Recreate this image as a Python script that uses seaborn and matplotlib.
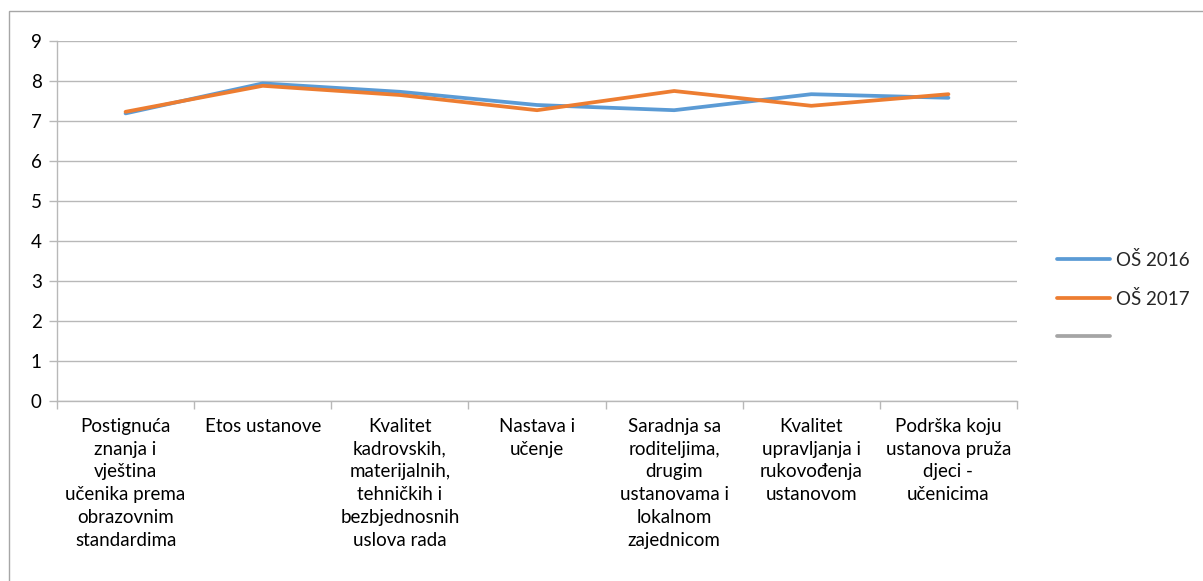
import matplotlib
matplotlib.use("Agg")
import matplotlib.pyplot as plt
from matplotlib.lines import Line2D
from matplotlib.patches import Rectangle
import numpy as np
import pandas as pd
import seaborn as sns

# Assessment areas (x categories)
categories = [
    "Postignuća\nznanja i\nvještina\nučenika prema\nobrazovnim\nstandardima",
    "Etos ustanove",
    "Kvalitet\nkadrovskih,\nmaterijalnih,\ntehničkih i\nbezbjednosnih\nuslova rada",
    "Nastava i\nučenje",
    "Saradnja sa\nroditeljima,\ndrugim\nustanovama i\nlokalnom\nzajednicom",
    "Kvalitet\nupravljanja i\nrukovođenja\nustanovom",
    "Podrška koju\nustanova pruža\ndjeci -\nučenicima",
]

# Average scores per area
os_2016 = [7.19, 7.94, 7.73, 7.40, 7.27, 7.67, 7.58]
os_2017 = [7.23, 7.88, 7.65, 7.27, 7.75, 7.38, 7.67]

series_names = ["OŠ 2016", "OŠ 2017"]
y_ticks = list(range(0, 10))

colors = {"OŠ 2016": "#5B9BD5", "OŠ 2017": "#ED7D31"}
empty_series_color = "#A5A5A5"

sns.set_theme(style="white")
plt.rcParams["font.family"] = ["Lato", "DejaVu Sans"]
FS = 13.5

rows = []
for name, vals in zip(series_names, [os_2016, os_2017]):
    for i, v in enumerate(vals):
        rows.append({"pos": i, "score": v, "series": name})
df = pd.DataFrame(rows)

fig = plt.figure(figsize=(12.03, 5.81), dpi=100)
ax = fig.add_axes([57 / 1203, 180 / 581, 960 / 1203, 360 / 581])

sns.lineplot(data=df, x="pos", y="score", hue="series", palette=colors,
             linewidth=2.7, ax=ax, legend=False, sort=False)

grid_color = "#B8B8B8"
n = len(categories)
ax.set_xlim(-0.5, n - 0.5)
ax.set_ylim(0, 9)
ax.set_yticks(y_ticks)
ax.set_yticklabels([str(t) for t in y_ticks], fontsize=FS, color="#000000")
ax.yaxis.grid(True, color=grid_color, linewidth=1.0)
ax.set_axisbelow(True)

# category boundaries carry the tick marks, centres carry the labels
ax.set_xticks(np.arange(-0.5, n, 1.0))
ax.set_xticklabels([""] * (n + 1))
ax.set_xticks(np.arange(n), minor=True)
ax.set_xticklabels(categories, minor=True, fontsize=FS, linespacing=1.42,
                   ha="center", va="top", color="#000000")
ax.tick_params(axis="x", which="major", length=6, width=1, color=grid_color,
               direction="out", bottom=True)
ax.tick_params(axis="x", which="minor", length=0, pad=12)
ax.tick_params(axis="y", which="major", length=6, width=1, color=grid_color,
               direction="out", left=True, pad=5)

for side in ["top", "right"]:
    ax.spines[side].set_visible(False)
for side in ["left", "bottom"]:
    ax.spines[side].set_color(grid_color)
    ax.spines[side].set_linewidth(1.0)
ax.set_xlabel("")
ax.set_ylabel("")

handles = [Line2D([0], [0], color=colors[s], linewidth=2.7) for s in series_names]
handles.append(Line2D([0], [0], color=empty_series_color, linewidth=2.7))
labels = series_names + [""]
ax.legend(handles, labels, loc="center left", bbox_to_anchor=(1.042, 0.286),
          frameon=False, fontsize=FS, handlelength=2.8, handletextpad=0.32,
          labelspacing=1.1, borderpad=0, borderaxespad=0)

# chart area border
fig.patches.append(Rectangle((9 / 1203, -0.01), 1.02, (581 - 11) / 581 + 0.01,
                             transform=fig.transFigure, fill=False,
                             edgecolor="#A6A6A6", linewidth=1.0))

fig.savefig("out.png", dpi=100, facecolor="white")
